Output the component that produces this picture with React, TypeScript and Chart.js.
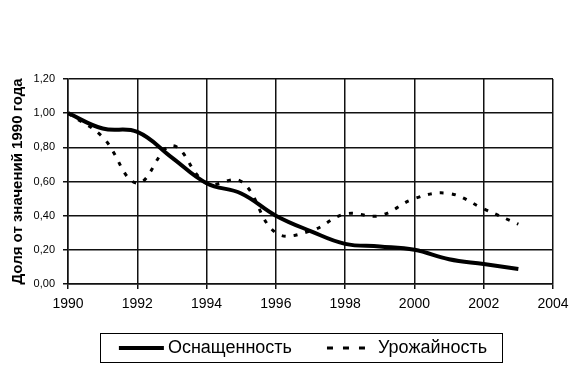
import React, { useEffect, useRef } from "react";
import { Chart, registerables } from "chart.js";

Chart.register(...registerables);

const years = [1990, 1991, 1992, 1993, 1994, 1995, 1996, 1997, 1998, 1999, 2000, 2001, 2002, 2003];
const equipment = [1.0, 0.91, 0.89, 0.74, 0.59, 0.53, 0.4, 0.31, 0.235, 0.22, 0.2, 0.145, 0.117, 0.088];
const cropYield = [1.0, 0.86, 0.59, 0.81, 0.59, 0.6, 0.3, 0.31, 0.41, 0.4, 0.5, 0.53, 0.44, 0.35];
const seriesNames = ["Оснащенность", "Урожайность"];
const yTickLabels = ["0,00", "0,20", "0,40", "0,60", "0,80", "1,00", "1,20"];
const yTitle = "Доля от значений 1990 года";

const FONT = "Arial, 'Liberation Sans', sans-serif";

const boxLegend = {
  id: "boxLegend",
  afterDraw(chart: any) {
    const ctx = chart.ctx;
    const ds = chart.data.datasets;
    ctx.save();
    ctx.font = "18px " + FONT;
    const tw1 = ctx.measureText(ds[0].label).width;
    const tw2 = ctx.measureText(ds[1].label).width;
    const l1 = 45, g1 = 4, gap = 35, l2 = 39, g2 = 12;
    const total = l1 + g1 + tw1 + gap + l2 + g2 + tw2;
    const cx = 303;
    const cy = 348;
    let x = cx - total / 2;
    ctx.strokeStyle = "#000";
    ctx.lineWidth = 1;
    ctx.strokeRect(100.5, 333.5, 402, 29);
    ctx.lineWidth = 4;
    ctx.setLineDash([]);
    ctx.beginPath();
    ctx.moveTo(x, cy);
    ctx.lineTo(x + l1, cy);
    ctx.stroke();
    x += l1 + g1;
    ctx.fillStyle = "#000";
    ctx.textBaseline = "middle";
    ctx.textAlign = "left";
    ctx.fillText(ds[0].label, x, cy);
    x += tw1 + gap;
    ctx.lineWidth = 3;
    ctx.setLineDash([6, 10]);
    ctx.beginPath();
    ctx.moveTo(x, cy);
    ctx.lineTo(x + l2, cy);
    ctx.stroke();
    ctx.setLineDash([]);
    x += l2 + g2;
    ctx.fillText(ds[1].label, x, cy);
    ctx.restore();
  },
};

export default function App() {
  const ref = useRef<HTMLCanvasElement>(null);

  useEffect(() => {
    if (!ref.current) return;
    const chart = new Chart(ref.current, {
      type: "line",
      data: {
        datasets: [
          {
            label: seriesNames[0],
            data: years.map((y, i) => ({ x: y, y: equipment[i] })),
            borderColor: "#000",
            borderWidth: 4,
            pointRadius: 0,
            tension: 0.4,
            fill: false,
          },
          {
            label: seriesNames[1],
            data: years.map((y, i) => ({ x: y, y: cropYield[i] })),
            borderColor: "#000",
            borderWidth: 3,
            borderDash: [4, 8],
            pointRadius: 0,
            tension: 0.4,
            fill: false,
          },
        ],
      },
      options: {
        animation: false,
        responsive: false,
        layout: { padding: { top: 79, right: 35, bottom: 38, left: 0 } },
        plugins: {
          legend: { display: false },
          tooltip: { enabled: false },
        },
        scales: {
          x: {
            type: "linear",
            min: 1990,
            max: 2004,
            ticks: {
              stepSize: 2,
              color: "#000",
              font: { family: FONT, size: 14 },
              padding: 7,
              maxRotation: 0,
              callback: (v: any) => String(v),
            },
            grid: { color: "#111", lineWidth: 1.5, tickLength: 5, tickColor: "#111" },
            border: { color: "#111", width: 1.5 },
            afterFit: (s: any) => {
              s.height = 50;
            },
          },
          y: {
            min: 0,
            max: 1.2,
            ticks: {
              stepSize: 0.2,
              color: "#000",
              font: { family: FONT, size: 11 },
              padding: 8,
              callback: (v: any) => yTickLabels[Math.round(Number(v) / 0.2)] ?? "",
            },
            grid: { color: "#111", lineWidth: 1.5, tickLength: 5, tickColor: "#111" },
            border: { color: "#111", width: 1.5 },
            title: {
              display: true,
              text: yTitle,
              color: "#000",
              font: { family: FONT, size: 15, weight: "bold" },
              padding: { top: 9, bottom: 0 },
            },
            afterFit: (s: any) => {
              s.width = 68;
            },
          },
        },
      },
      plugins: [boxLegend],
    });
    return () => chart.destroy();
  }, []);

  return (
    <div style={{ position: "fixed", left: 0, top: 0, width: 588, height: 372, background: "#fff" }}>
      <canvas ref={ref} width={588} height={372} style={{ display: "block" }} />
    </div>
  );
}
